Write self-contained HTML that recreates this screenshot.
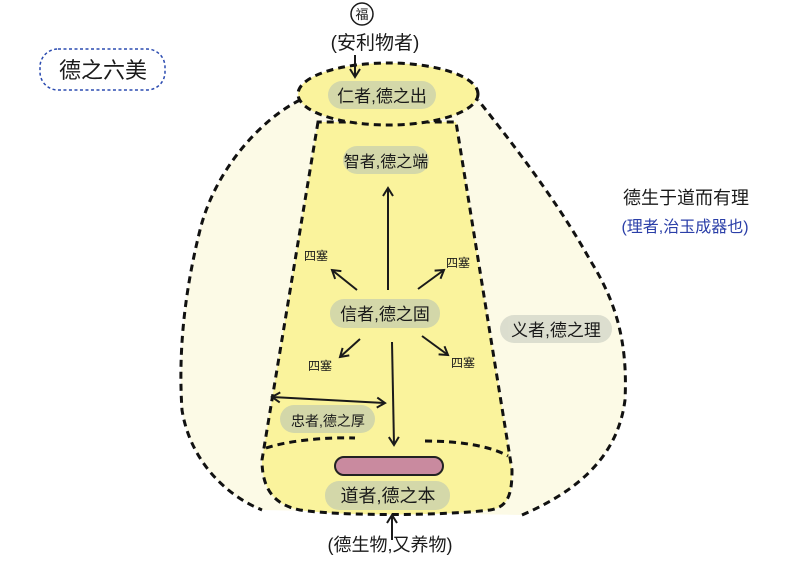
<!DOCTYPE html>
<html><head><meta charset="utf-8"><style>
html,body{margin:0;padding:0;background:#fff;}
svg{display:block;}
text{font-family:"Liberation Sans","Noto Sans CJK SC",sans-serif;fill:#1a1a1a;}
</style></head><body>
<svg width="800" height="561" viewBox="0 0 800 561" xmlns="http://www.w3.org/2000/svg">
<defs>
<marker id="ah" markerWidth="12" markerHeight="12" refX="9" refY="6" orient="auto" markerUnits="userSpaceOnUse">
<path d="M1,1 L9,6 L1,11" fill="none" stroke="#1a1a1a" stroke-width="2"/>
</marker>
<marker id="as" markerWidth="12" markerHeight="12" refX="3" refY="6" orient="auto" markerUnits="userSpaceOnUse">
<path d="M11,1 L3,6 L11,11" fill="none" stroke="#1a1a1a" stroke-width="2"/>
</marker>
</defs>
<path d="M300,100 C260,120 215,170 200,230 C185,290 178,350 182,410 C190,460 225,495 262,510 L522,515 C580,490 618,455 625,400 C628,340 615,300 590,260 C565,215 530,165 478,100 Z" fill="#fcfae6"/>
<g stroke="#111" stroke-width="3" stroke-dasharray="7,5" fill="none">
<path d="M300,100 C260,120 215,170 200,230 C185,290 178,350 182,410 C190,460 225,495 262,510"/>
<path d="M522,515 C580,490 618,455 625,400 C628,340 615,300 590,260 C565,215 530,165 478,100"/>
</g>
<g stroke="#111" stroke-width="3" stroke-dasharray="7,5">
<path d="M318,122 L262,460 C262,490 275,505 300,510 C340,516 440,516 490,510 C508,507 512,495 512,470 L456,122 Z" fill="#faf39c"/>
<ellipse cx="388" cy="94" rx="90" ry="31" fill="#faf39c"/>
<path d="M266,448 C290,440 330,437 355,438" fill="none"/>
<path d="M425,441 C460,441 490,446 508,456" fill="none"/>
</g>
<rect x="335" y="457" width="108" height="18" rx="9" fill="#c98a9f" stroke="#222" stroke-width="2"/>
<g fill="#cfd5ab" opacity="0.9">
<rect x="328" y="81" width="108" height="28" rx="14"/>
<rect x="343" y="146" width="86" height="28" rx="14"/>
<rect x="330" y="299" width="110" height="29" rx="14"/>
<rect x="500" y="315" width="112" height="28" rx="14" fill="#d8dacc"/>
<rect x="280" y="405" width="95" height="28" rx="14"/>
<rect x="325" y="481" width="125" height="29" rx="14"/>
</g>
<g stroke="#1a1a1a" stroke-width="2" fill="none">
<line x1="388" y1="290" x2="388" y2="188" marker-end="url(#ah)"/>
<line x1="392" y1="342" x2="394" y2="445" marker-end="url(#ah)"/>
<line x1="357" y1="290" x2="332" y2="270" marker-end="url(#ah)"/>
<line x1="418" y1="289" x2="444" y2="270" marker-end="url(#ah)"/>
<line x1="360" y1="339" x2="340" y2="357" marker-end="url(#ah)"/>
<line x1="422" y1="336" x2="448" y2="355" marker-end="url(#ah)"/>
<line x1="272" y1="397" x2="385" y2="403" marker-start="url(#as)" marker-end="url(#ah)"/>
<line x1="355" y1="55" x2="355" y2="77" marker-end="url(#ah)"/>
<line x1="392" y1="540" x2="392" y2="515" marker-end="url(#ah)"/>
</g>
<circle cx="362" cy="14" r="11" fill="none" stroke="#1a1a1a" stroke-width="1.5"/>
<text x="362" y="19" font-size="13" text-anchor="middle">福</text>
<text x="375" y="49" font-size="19" text-anchor="middle">(安利物者)</text>
<text x="382" y="102" font-size="17" text-anchor="middle">仁者,德之出</text>
<text x="386" y="167" font-size="16" text-anchor="middle">智者,德之端</text>
<text x="385" y="320" font-size="17" text-anchor="middle">信者,德之固</text>
<text x="556" y="336" font-size="17" text-anchor="middle">义者,德之理</text>
<text x="328" y="426" font-size="14" text-anchor="middle">忠者,德之厚</text>
<text x="388" y="502" font-size="18" text-anchor="middle">道者,德之本</text>
<text x="390" y="551" font-size="18" text-anchor="middle">(德生物,又养物)</text>
<text x="686" y="204" font-size="18" text-anchor="middle">德生于道而有理</text>
<text x="685" y="232" font-size="16" text-anchor="middle" style="fill:#2b3fa8">(理者,治玉成器也)</text>
<g font-size="12" text-anchor="middle">
<text x="316" y="260">四塞</text>
<text x="458" y="267">四塞</text>
<text x="320" y="370">四塞</text>
<text x="463" y="367">四塞</text>
</g>
<rect x="40" y="49" width="125" height="41" rx="18" fill="none" stroke="#2b4bb0" stroke-width="1.5" stroke-dasharray="3,2.5"/>
<text x="103" y="78" font-size="22" text-anchor="middle">德之六美</text>
</svg>
</body></html>
